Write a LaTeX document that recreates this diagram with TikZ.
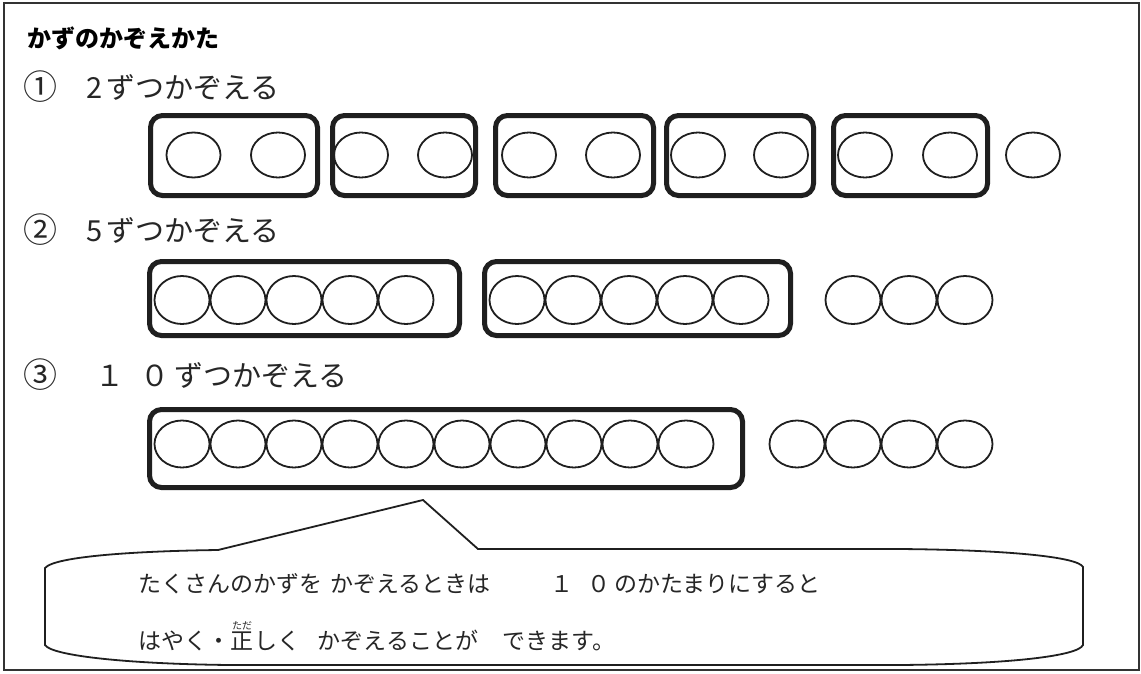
\documentclass[tikz,border=0pt]{standalone}
\usepackage{fontspec}
\newfontfamily\jp{Noto Sans CJK JP}
\usetikzlibrary{shapes.geometric}
\begin{document}
\begin{tikzpicture}[x=1pt,y=-1pt,
  grp/.style={draw=black!88, line width=5pt, rounded corners=12pt, rectangle, inner sep=0pt},
  beadA/.style={ellipse, draw=black!88, line width=1.8pt, minimum width=54pt, minimum height=45pt, inner sep=0pt},
  beadB/.style={ellipse, draw=black!88, line width=1.8pt, minimum width=55pt, minimum height=48pt, inner sep=0pt},
  beadC/.style={ellipse, draw=black!88, line width=1.8pt, minimum width=55pt, minimum height=47pt, inner sep=0pt},
  ttl/.style={anchor=base west, inner sep=0pt, font=\jp\bfseries\fontsize{24pt}{28pt}\selectfont},
  head/.style={anchor=base west, inner sep=0pt, font=\jp\fontsize{29pt}{32pt}\selectfont, text=black!85},
  circnum/.style={anchor=base west, inner sep=0pt, font=\jp\fontsize{34pt}{36pt}\selectfont, text=black!85},
  txt/.style={anchor=base west, inner sep=0pt, font=\jp\fontsize{23pt}{27pt}\selectfont, text=black!85},
  rubytxt/.style={anchor=south, inner sep=0pt, font=\jp\fontsize{10pt}{12pt}\selectfont, text=black!85},
  callout/.style={draw=black!88, line width=1.8pt, line join=miter}
]
\fill[white] (0,0) rectangle (1141,673);
\useasboundingbox (0,0) rectangle (1141,673);
\draw[line width=2pt, draw=black!80] (4,3) rectangle (1139,670);

% title and headings
\node[ttl] (title) at (27,47) {かずのかぞえかた};
\node[circnum] (n1) at (23,99) {①};
\node[head] (h1) at (86,98) {2\hspace{4pt}ずつかぞえる};
\node[circnum] (n2) at (23,242) {②};
\node[head] (h2) at (86,241) {5\hspace{4pt}ずつかぞえる};
\node[circnum] (n3) at (23,387) {③};
\node[head] (h3) at (95,386) {１\hspace{16pt}０\hspace{5pt}ずつかぞえる};

% row 1
\node[grp, minimum width=167pt, minimum height=80pt] (g1a) at (234,155.5) {};
\node[grp, minimum width=143pt, minimum height=80pt] (g1b) at (404,155.5) {};
\node[grp, minimum width=158pt, minimum height=80pt] (g1c) at (574.5,155.5) {};
\node[grp, minimum width=147pt, minimum height=80pt] (g1d) at (740,155.5) {};
\node[grp, minimum width=154pt, minimum height=80pt] (g1e) at (910.5,155.5) {};
\foreach \x [count=\i] in {193.5,278,361,445,529,613,698,781,865,950,1033}
  \node[beadA] (ra\i) at (\x,155) {};

% row 2
\node[grp, minimum width=310pt, minimum height=74pt] (g2a) at (304.5,298.5) {};
\node[grp, minimum width=306pt, minimum height=74pt] (g2b) at (637.5,298.5) {};
\foreach \x [count=\i] in {182,238,294,350,406,517,573,629,685,741,853,909,965}
  \node[beadB] (rb\i) at (\x,300) {};

% row 3
\node[grp, minimum width=593pt, minimum height=78pt] (g3a) at (446,448.5) {};
\foreach \x [count=\i] in {182,238,294,350,406,462,518,574,630,686,797,853,909,965}
  \node[beadC] (rc\i) at (\x,444) {};

% callout
\coordinate (tip) at (423,500);
\coordinate (baseL) at (218,550);
\coordinate (baseR) at (478,549);
\draw[callout] (45,568) .. controls (55,556) and (140,551) .. (baseL) -- (tip) -- (baseR)
  -- (900,549) .. controls (1010,550) and (1078,557) .. (1083,567)
  -- (1083,645) .. controls (1078,656) and (1010,664) .. (900,665)
  -- (230,665) .. controls (130,664) and (52,656) .. (45,645) -- cycle;

\node[txt] (l1a) at (138,592) {たくさんのかずを\hspace{8pt}かぞえるときは};
\node[txt] (l1b) at (550,592) {１\hspace{14pt}０\hspace{4pt}のかたまりにすると};
\node[txt] (l2a) at (138,649) {はやく・};
\node[txt] (sei) at (l2a.base east) {正};
\node[txt] (l2b) at (sei.base east) {しく\hspace{18pt}かぞえることが\hspace{24pt}できます。};
\node[rubytxt] (ruby) at ([yshift=1pt]sei.north) {ただ};
\end{tikzpicture}
\end{document}
